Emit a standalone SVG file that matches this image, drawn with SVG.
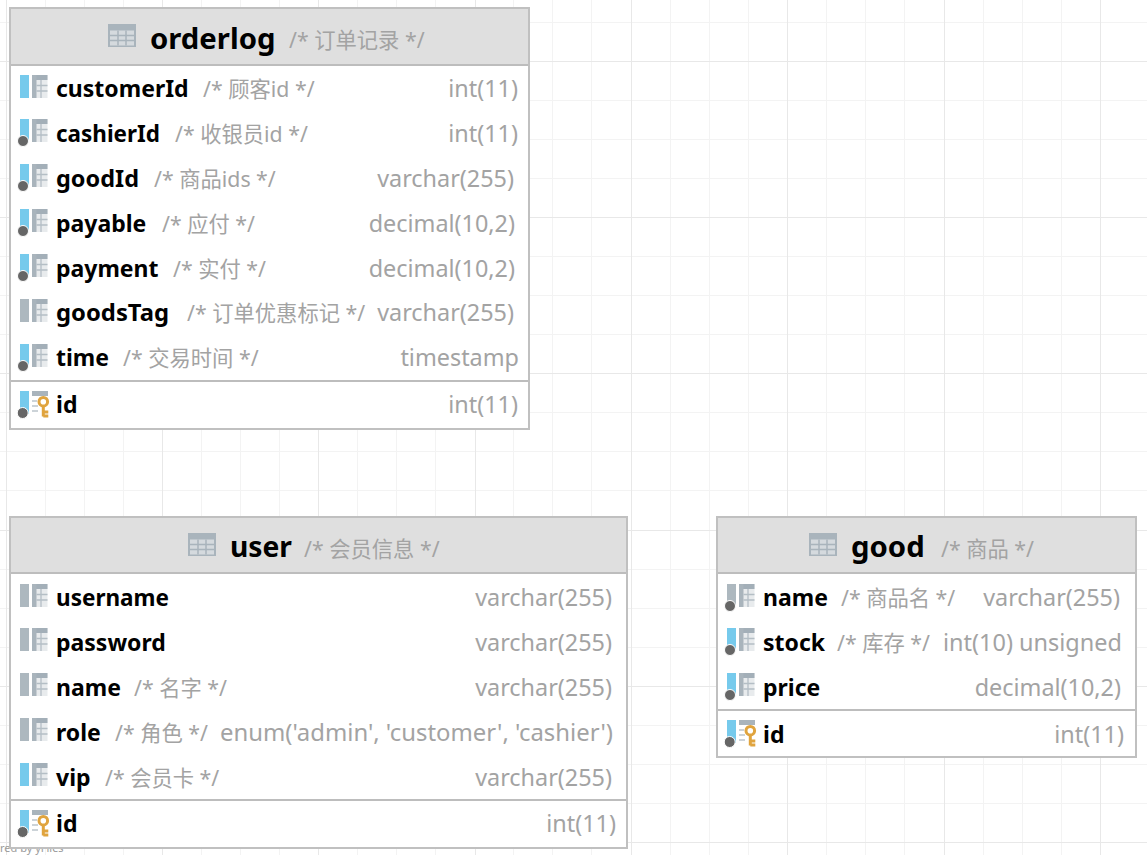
<svg xmlns="http://www.w3.org/2000/svg" width="1147" height="855" viewBox="0 0 1147 855">
<style>
text{font-family:"Noto Sans","Open Sans","Noto Sans CJK SC",sans-serif}
.box{fill:#fff;stroke:#c0c0c0;stroke-width:2}
.hd{fill:#dfdfdf}
.sep{stroke:#bdbdbd;stroke-width:2;fill:none}
.t{font-size:29.300px;font-weight:700;fill:#000}
.n{font-size:23px;font-weight:700;fill:#000}
.c{font-size:21.300px;fill:#a3a3a3;font-family:"Noto Sans","Noto Sans CJK SC",sans-serif}
.y{font-size:23.400px;fill:#a3a3a3;text-anchor:end}
.g1{stroke:#f3f3f3;stroke-width:1;fill:none}
.g2{stroke:#e8e8e8;stroke-width:1;fill:none}
</style>
<defs>
<g id="tbl"><rect width="28" height="23" fill="#a9b4bc"/><path d="M2 6.500h24v15h-24z" fill="#d5dade"/><path d="M10 6.500v15M18 6.500v15M2 11.500h24M2 16.500h24" stroke="#a9b4bc" stroke-width="1.500" fill="none"/></g>
<g id="cells"><rect x="12" width="15.500" height="23" fill="#e8ebed"/><rect x="12" width="15.500" height="5" fill="#a3afb8"/><rect x="12" width="4.500" height="23" fill="#a9b4bc"/><path d="M16.500 10.500h11M16.500 16h11M21 5v18" stroke="#b4bec5" stroke-width="1.300" fill="none"/></g>
<g id="colb"><rect width="9" height="23" fill="#76caec"/><use href="#cells"/></g>
<g id="colg"><rect width="9" height="23" fill="#adb8bf"/><use href="#cells"/></g>
<circle id="dot" r="5.500" fill="#666" stroke="#fff" stroke-width="1"/>
<g id="pk"><rect width="9" height="23" fill="#76caec"/><rect x="12" width="16" height="5" fill="#a9b4bc"/><path d="M12 10h5M12 15h6M12 20h6" stroke="#bcc5cb" stroke-width="1.500"/><path d="M23.300 15v10.500M23.300 21h5M23.300 25h5" stroke="#e0a43e" stroke-width="3" fill="none"/><circle cx="23.300" cy="10.700" r="4.300" fill="none" stroke="#e0a43e" stroke-width="3"/><circle cx="2.700" cy="22" r="5.500" fill="#666" stroke="#fff"/></g>
</defs>
<g id="grid">
<path class="g1" d="M45.500 0V855M84.500 0V855M123.500 0V855M201.500 0V855M240.500 0V855M279.500 0V855M357.500 0V855M396.500 0V855M435.500 0V855M513.500 0V855M552.500 0V855M591.500 0V855M670.500 0V855M709.500 0V855M748.500 0V855M826.500 0V855M865.500 0V855M904.500 0V855M983.500 0V855M1022.500 0V855M1061.500 0V855M0 22.500H1147M0 100.500H1147M0 139.500H1147M0 178.500H1147M0 256.500H1147M0 295.500H1147M0 334.500H1147M0 412.500H1147M0 451.500H1147M0 490.500H1147M0 569.500H1147M0 608.500H1147M0 647.500H1147M0 725.500H1147M0 764.500H1147M0 803.500H1147"/>
<path class="g2" d="M6.500 0V855M162.500 0V855M318.500 0V855M475.500 0V855M631.500 0V855M787.500 0V855M944.500 0V855M1100.500 0V855M0 61.500H1147M0 217.500H1147M0 373.500H1147M0 530.500H1147M0 686.500H1147M0 842.500H1147"/>
</g>
<text id="credit" x="0" y="852" font-size="11" fill="#9a9a9a">red by yFiles</text>
<g id="connectors"/>
<g id="orderlog">
<rect class="box" x="10" y="8" width="519" height="421"/>
<rect class="hd" x="11" y="9" width="517" height="55"/>
<path class="sep" d="M11 65H528M11 381H528"/>
<use href="#tbl" x="108" y="24"/>
<text class="t" x="150" y="49">orderlog</text><text class="c" x="289" y="48">/* 订单记录 */</text>
<use href="#colb" x="20" y="75"/><text class="n" x="56" y="97">customerId</text><text class="c" x="203" y="97">/* 顾客id */</text><text class="y" x="518" y="97">int(11)</text>
<use href="#colb" x="20" y="119"/><use href="#dot" x="23" y="141"/><text class="n" x="56" y="142" textLength="104" lengthAdjust="spacingAndGlyphs">cashierId</text><text class="c" x="175" y="142">/* 收银员id */</text><text class="y" x="518" y="142">int(11)</text>
<use href="#colb" x="20" y="164"/><use href="#dot" x="23" y="186"/><text class="n" x="56" y="187" textLength="83" lengthAdjust="spacingAndGlyphs">goodId</text><text class="c" x="154" y="187">/* 商品ids */</text><text class="y" x="514" y="187">varchar(255)</text>
<use href="#colb" x="20" y="209"/><use href="#dot" x="23" y="231"/><text class="n" x="56" y="232">payable</text><text class="c" x="162" y="232">/* 应付 */</text><text class="y" x="515" y="232">decimal(10,2)</text>
<use href="#colb" x="20" y="254"/><use href="#dot" x="23" y="276"/><text class="n" x="56" y="277">payment</text><text class="c" x="173" y="277">/* 实付 */</text><text class="y" x="515" y="277">decimal(10,2)</text>
<use href="#colg" x="20" y="299"/><text class="n" x="56" y="321" textLength="113" lengthAdjust="spacingAndGlyphs">goodsTag</text><text class="c" x="187" y="321">/* 订单优惠标记 */</text><text class="y" x="514" y="321">varchar(255)</text>
<use href="#colb" x="20" y="344"/><use href="#dot" x="23" y="366"/><text class="n" x="56" y="366">time</text><text class="c" x="123" y="366">/* 交易时间 */</text><text class="y" x="519" y="366">timestamp</text>
<use href="#pk" x="20" y="391"/><text class="n" x="56" y="413">id</text><text class="y" x="518" y="413">int(11)</text>
</g>
<g id="user">
<rect class="box" x="10" y="517" width="617" height="331"/>
<rect class="hd" x="11" y="518" width="615" height="54"/>
<path class="sep" d="M11 573H626M11 800H626"/>
<use href="#tbl" x="188" y="533"/>
<text class="t" x="230" y="557" textLength="62" lengthAdjust="spacingAndGlyphs">user</text><text class="c" x="304" y="557">/* 会员信息 */</text>
<use href="#colg" x="20" y="584"/><text class="n" x="56" y="606" textLength="113" lengthAdjust="spacingAndGlyphs">username</text><text class="y" x="612" y="606">varchar(255)</text>
<use href="#colg" x="20" y="628"/><text class="n" x="56" y="651">password</text><text class="y" x="612" y="651">varchar(255)</text>
<use href="#colg" x="20" y="673"/><text class="n" x="56" y="696">name</text><text class="c" x="134" y="696">/* 名字 */</text><text class="y" x="612" y="696">varchar(255)</text>
<use href="#colg" x="20" y="718"/><text class="n" x="56" y="741">role</text><text class="c" x="115" y="741">/* 角色 */</text><text class="y" x="613" y="741" textLength="393" lengthAdjust="spacingAndGlyphs">enum('admin', 'customer', 'cashier')</text>
<use href="#colb" x="20" y="763"/><text class="n" x="56" y="786">vip</text><text class="c" x="105" y="786">/* 会员卡 */</text><text class="y" x="612" y="786">varchar(255)</text>
<use href="#pk" x="20" y="810"/><text class="n" x="56" y="832">id</text><text class="y" x="616" y="832">int(11)</text>
</g>
<g id="good">
<rect class="box" x="717" y="517" width="419" height="240"/>
<rect class="hd" x="718" y="518" width="417" height="54"/>
<path class="sep" d="M718 573H1135M718 710H1135"/>
<use href="#tbl" x="809" y="533"/>
<text class="t" x="851" y="557">good</text><text class="c" x="941" y="557">/* 商品 */</text>
<use href="#colg" x="727" y="584"/><use href="#dot" x="730" y="606"/><text class="n" x="763" y="606">name</text><text class="c" x="841" y="606">/* 商品名 */</text><text class="y" x="1120" y="606">varchar(255)</text>
<use href="#colb" x="727" y="628"/><use href="#dot" x="730" y="650"/><text class="n" x="763" y="651">stock</text><text class="c" x="837" y="651">/* 库存 */</text><text class="y" x="1122" y="651" textLength="179" lengthAdjust="spacingAndGlyphs">int(10) unsigned</text>
<use href="#colb" x="727" y="673"/><use href="#dot" x="730" y="695"/><text class="n" x="763" y="696">price</text><text class="y" x="1121" y="696">decimal(10,2)</text>
<use href="#pk" x="727" y="720"/><text class="n" x="763" y="743">id</text><text class="y" x="1124" y="743">int(11)</text>
</g>
</svg>
